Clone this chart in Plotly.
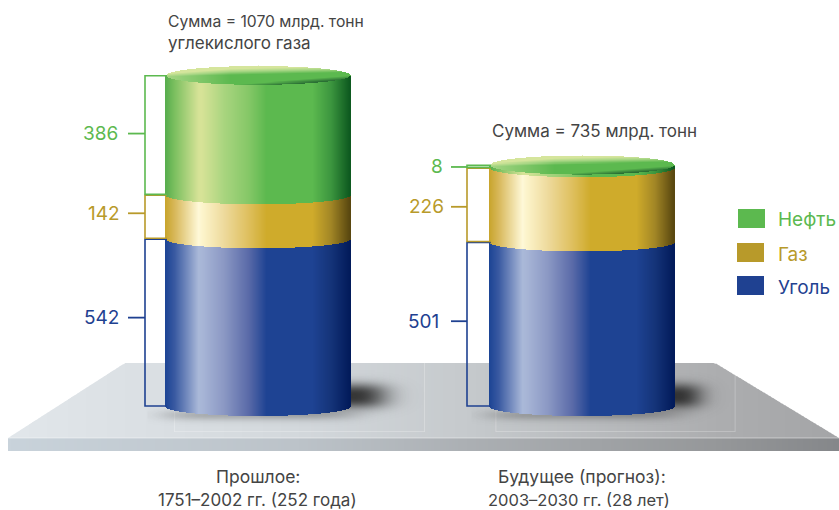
import numpy as np
import plotly.graph_objects as go

# ---- data -------------------------------------------------
series_names = ["Уголь", "Газ", "Нефть"]
past_values = [542, 142, 386]
future_values = [501, 226, 8]
past_total_text = ["Сумма = 1070 млрд. тонн", "углекислого газа"]
future_total_text = ["Сумма = 735 млрд. тонн"]
past_period = ["Прошлое:", "1751–2002 гг. (252 года)"]
future_period = ["Будущее (прогноз):", "2003–2030 гг. (28 лет)"]

# ---- styling ----------------------------------------------
W, H = 839, 510
FONT = "Inter"
TXT = "#444444"
solid = {"Уголь": "#1f4191", "Газ": "#b89a2a", "Нефть": "#5cb94f"}
stops = [0, .05, .18, .20, .32, .45, .55, .80, .90, 1]
ramps = {
    "Нефть": ["#58ae4e", "#7cc060", "#d6e397", "#d6e397", "#a9d57f", "#86c868", "#5cb94f", "#5cb94f", "#3c963f", "#0e5a20"],
    "Газ": ["#c9a52e", "#d8b85a", "#fff9d8", "#fdf5cc", "#eeda9c", "#dfc05f", "#cfab2b", "#cfab2b", "#a28626", "#5a4810"],
    "Уголь": ["#1d4595", "#3a5aa2", "#aab9d9", "#a8b6d7", "#8b98c4", "#5b6ba9", "#1e4393", "#1e4393", "#153479", "#021b5b"],
}


def hex2rgb(h):
    return np.array([int(h[i:i + 2], 16) for i in (1, 3, 5)], float)


def ramp_color(name, t):
    rgb = np.array([hex2rgb(c) for c in ramps[name]])
    return "rgb(%d,%d,%d)" % tuple(np.interp(t, stops, rgb[:, k]) for k in range(3))


BASE_PX = 406.5      # pixel row of value 0 at the cylinder side
RY = 9.5
RX = 92.5
SCALE_PAST = 0.3095  # px per value
SCALE_FUT = 0.3285


def val_range(s):
    return [(BASE_PX - H) / s, BASE_PX / s]


fig = go.Figure()
shapes = []


def px_poly(pts, color):
    d = "M" + " L".join(f"{x:.1f},{y:.1f}" for x, y in pts) + " Z"
    return dict(type="path", path=d, fillcolor=color, line=dict(width=0),
                xref="x", yref="y", layer="below")


# ---- platform --------------------------------------------
P_L, P_R, P_TL, P_TR, P_T, P_B, P_F = 8, 839, 125, 715, 363, 438, 451


def ptop(x):
    a = np.clip((x - P_L) / (P_TL - P_L), 0, 1)
    b = np.clip((P_R - x) / (P_R - P_TR), 0, 1)
    return P_B - (P_B - P_T) * min(a, b)


top_rgb = [hex2rgb(c) for c in ("#e2e7eb", "#d3d8dc", "#c6cacd", "#adaeb0", "#a4a5a7")]
front_rgb = [hex2rgb(c) for c in ("#c9d3db", "#bcc3c9", "#acb0b4", "#96989a", "#85878a")]
pos = [0, .35, .55, .85, 1]
xs = np.arange(P_L, P_R, 3.0)
for x0 in xs:
    x1 = min(x0 + 3.6, P_R)
    t = (x0 - P_L) / (P_R - P_L)
    c = "rgb(%d,%d,%d)" % tuple(np.interp(t, pos, [r[k] for r in top_rgb]) for k in range(3))
    shapes.append(px_poly([(x0, ptop(x0)), (x1, ptop(x1)), (x1, P_B), (x0, P_B)], c))
    c = "rgb(%d,%d,%d)" % tuple(np.interp(t, pos, [r[k] for r in front_rgb]) for k in range(3))
    shapes.append(px_poly([(x0, P_B), (x1, P_B), (x1, P_F), (x0, P_F)], c))

rim = "rgba(255,255,255,0.45)"
shapes.append(dict(type="line", x0=P_L, x1=P_R, y0=P_B, y1=P_B, xref="x", yref="y",
                   line=dict(color=rim, width=1), layer="below"))
for a, b in ((174, 425), (495.5, 735.5)):
    shapes.append(px_poly([(a, P_T), (a, 432), (b, 432), (b, P_T), (b - .8, P_T), (b - .8, 431.2),
                           (a + .8, 431.2), (a + .8, P_T)], "rgba(255,255,255,0.30)"))


# ---- soft shadows (decoration, in pixel coordinates) ---------
def add_shadow(cx, x_edge, reach):
    gx = np.arange(cx - 110, x_edge + reach + 25, 2.0)
    gy = np.arange(370, 430, 1.0)
    X, Y = np.meshgrid(gx, gy)
    z = 0.95 * np.exp(-(np.clip(X - x_edge, 0, None) / (reach * .72)) ** 2.6 - (np.abs(Y - 395) / 12.5) ** 2.6)
    z = z * (X > cx)
    z = z + 0.28 * np.exp(-((X - cx) / 96) ** 6 - ((Y - 414) / 5.5) ** 2)
    fig.add_trace(go.Heatmap(x=gx, y=gy, z=np.round(np.clip(z, 0, 1), 3), zmin=0, zmax=1, showscale=False,
                             zsmooth="best", hoverinfo="skip", yaxis="y", xaxis="x",
                             colorscale=[[0, "rgba(45,45,45,0)"], [1, "rgba(45,45,45,1)"]]))


add_shadow(258.5, 351, 50)
add_shadow(582.5, 675, 38)


# ---- cylinders --------------------------------------------
def add_cylinder(cx, values, scale, axis):
    xs = np.arange(cx - RX + .5, cx + RX, 1.0)
    u = (xs - cx) / RX
    drop = RY * np.sqrt(np.clip(1 - u ** 2, 0, 1)) / scale   # ellipse sag in value units
    t = (xs - xs[0]) / (xs[-1] - xs[0])
    cum = 0
    for name, v in zip(series_names, values):
        fig.add_trace(go.Bar(x=xs, y=[v] * len(xs), base=cum - drop, width=1.25, name=name,
                             yaxis=axis, xaxis="x", showlegend=False,
                             marker=dict(color=[ramp_color(name, a) for a in t], line=dict(width=0))))
        cum += v
    # elliptical top cap
    gx = xs
    gy_px = np.arange(-RY, RY + .01, .5)
    U, V = np.meshgrid(gx, gy_px)
    U = (U - cx) / RX
    V = V / RY
    light = np.clip((-V - 0.22 * U - 0.12) / 0.65, 0, 1)
    edge = np.clip((-U - 0.3) / 0.7, 0, 1) * 0.55
    dark = np.clip((0.55 * U + 0.75 * V - 0.55) / 0.3, 0, 1)
    z = 0.35 + 0.65 * np.clip(light + edge, 0, 1) - 0.35 * dark
    z[U ** 2 + V ** 2 > 1] = np.nan
    fig.add_trace(go.Heatmap(x=gx, y=cum - gy_px / scale, z=np.round(z, 3), zmin=0, zmax=1, showscale=False,
                             hoverinfo="skip", yaxis=axis, xaxis="x",
                             colorscale=[[0, "#2a6f34"], [.35, "#5cb94f"], [.7, "#a5d583"], [1, "#d5e59c"]]))


add_cylinder(258.5, past_values, SCALE_PAST, "y2")
add_cylinder(582.5, future_values, SCALE_FUT, "y3")


# ---- brackets and value labels ----------------------------
annotations = []


def add_brackets(x_br, x_cyl, tick_len, values, axis, scale, label_right, nudge_px):
    cum = 0
    for name, v in zip(series_names, values):
        gap = min(1.5, v * 0.1)
        lo, hi = cum + gap, cum + v - gap
        mid = cum + v / 2 - nudge_px[name] / scale
        fig.add_trace(go.Scatter(x=[x_cyl, x_br, x_br, x_cyl], y=[hi, hi, lo, lo], mode="lines",
                                 line=dict(color=solid[name], width=1.6), yaxis=axis, xaxis="x",
                                 showlegend=False, hoverinfo="skip"))
        fig.add_trace(go.Scatter(x=[x_br - tick_len, x_br], y=[mid, mid], mode="lines",
                                 line=dict(color=solid[name], width=1.8), yaxis=axis, xaxis="x",
                                 showlegend=False, hoverinfo="skip"))
        annotations.append(dict(x=label_right[name], y=mid, xref="x", yref=axis, text=str(v), showarrow=False,
                                xanchor="right", yanchor="middle", font=dict(family=FONT, size=19, color=solid[name])))
        cum += v


add_brackets(145, 167, 17, past_values, "y2", SCALE_PAST, {"Нефть": 120, "Газ": 122, "Уголь": 121},
             {"Нефть": -1.5, "Газ": -3.5, "Уголь": -5})
add_brackets(467, 491, 16, future_values, "y3", SCALE_FUT, {"Нефть": 445, "Газ": 446, "Уголь": 441},
             {"Нефть": 0.6, "Газ": 2, "Уголь": -3})


# ---- text --------------------------------------------------
def text(x, y, s, anchor="left", size=15.5, color=TXT, yanchor="middle"):
    annotations.append(dict(x=x, y=y, xref="x", yref="y", text=s, showarrow=False, xanchor=anchor,
                            yanchor=yanchor, font=dict(family=FONT, size=size, color=color)))


text(165.5, 21, past_total_text[0], size=15.7)
text(165.5, 43, past_total_text[1], size=17)
text(489.5, 131, future_total_text[0], size=17)
text(258, 476, past_period[0], "center", size=17.5)
text(257.5, 500, past_period[1], "center", size=17)
text(581.5, 476, future_period[0], "center", size=17.5)
text(578.5, 500, future_period[1], "center", size=16.5)

# ---- legend ------------------------------------------------
for name, x0, y0, ty in (("Нефть", 738, 209, 219), ("Газ", 737, 243, 254), ("Уголь", 737, 276, 287)):
    shapes.append(dict(type="rect", x0=x0, x1=x0 + 27, y0=y0, y1=y0 + 19, xref="x", yref="y",
                       fillcolor=solid[name], line=dict(width=0), layer="below"))
    text(775.5, ty, name, size=19, color=solid[name])

# ---- layout ------------------------------------------------
hidden = dict(visible=False, fixedrange=True, showgrid=False, zeroline=False)
fig.update_layout(
    width=W, height=H, margin=dict(l=0, r=0, t=0, b=0), autosize=False,
    paper_bgcolor="white", plot_bgcolor="white", barmode="overlay", bargap=0,
    showlegend=False, shapes=shapes, annotations=annotations,
    xaxis=dict(range=[0, W], domain=[0, 1], **hidden),
    yaxis=dict(range=[H, 0], domain=[0, 1], **hidden),
    yaxis2=dict(range=val_range(SCALE_PAST), overlaying="y", **hidden),
    yaxis3=dict(range=val_range(SCALE_FUT), overlaying="y", **hidden),
)
fig.write_html("out.html", config=dict(displayModeBar=False),
               post_script="document.body.style.margin='0';document.body.style.overflow='hidden';")
